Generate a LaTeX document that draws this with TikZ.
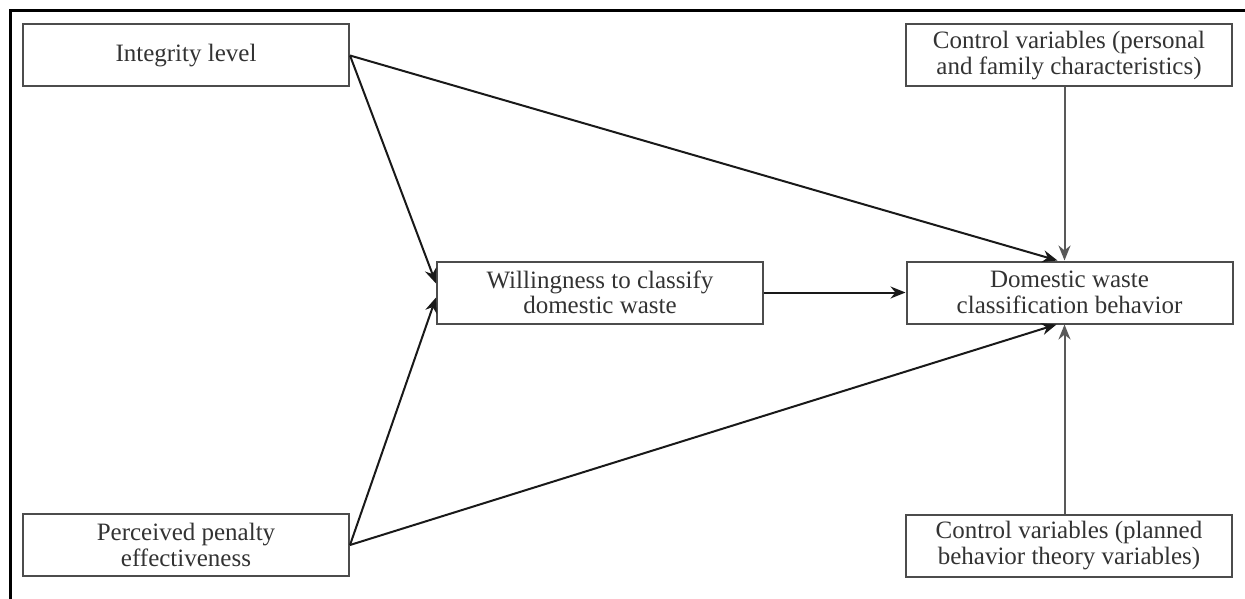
\documentclass[tikz,border=0pt]{standalone}
\usepackage{fontspec}
\setmainfont{Liberation Serif}
\usetikzlibrary{arrows.meta,calc}
\begin{document}
\begin{tikzpicture}[x=1pt,y=-1pt,
  box/.style={draw=black!70,line width=2pt,fill=white,minimum width=326pt,minimum height=62pt,
    inner sep=0pt,align=center,text=black!80,font=\fontsize{25}{25.5}\selectfont},
  arr/.style={draw=black!90,line width=2pt,-{Stealth[length=15pt,width=12pt]}},
  vline/.style={draw=black!65,line width=2pt,-{Stealth[length=15pt,width=12pt]}}]
\useasboundingbox (0,0) rectangle (1245,599);
\coordinate (fa) at (10,599);
\coordinate (fb) at (10,11);
\coordinate (fc) at (1245,11);
\draw[line width=3pt] (fa) -- (fb) -- (fc);

\node[box] (int) at (186,55.5) {Integrity level};
\node[box] (pen) at (186,545) {Perceived penalty\\effectiveness};
\node[box] (will) at (600,292.5) {Willingness to classify\\domestic waste};
\node[box] (dom) at (1069.5,292.5) {Domestic waste\\classification behavior};
\node[box] (c1) at (1069,55.5) {Control variables (personal\\and family characteristics)};
\node[box] (c2) at (1069,545.5) {Control variables (planned\\behavior theory variables)};

\coordinate (wA) at ($(will.west)+(0,-9)$);
\coordinate (wB) at ($(will.west)+(0,5)$);
\coordinate (dT1) at ($(dom.north)+(-12,0)$);
\coordinate (dT2) at ($(dom.north)+(-5,0)$);
\coordinate (dB1) at ($(dom.south)+(-13,0)$);
\coordinate (dB2) at ($(dom.south)+(-5,0)$);

\draw[arr] (int.east) -- (wA);
\draw[arr] (int.east) -- (dT1);
\draw[arr] (pen.east) -- (wB);
\draw[arr] (pen.east) -- (dB1);
\draw[arr] (will.east) -- (dom.west);
\draw[vline] (c1.south -| dT2) -- (dT2);
\draw[vline] (c2.north -| dB2) -- (dB2);
\end{tikzpicture}
\end{document}
